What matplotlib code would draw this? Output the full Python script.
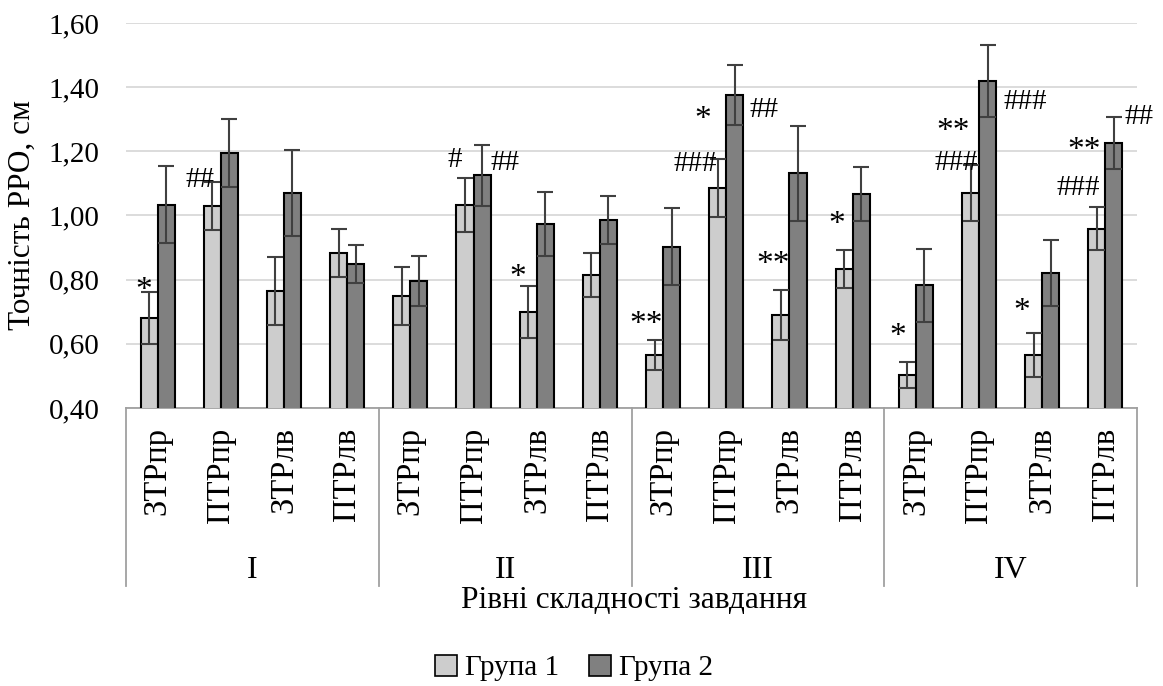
import numpy as np
import matplotlib
matplotlib.use("Agg")
import matplotlib.pyplot as plt
from matplotlib.patches import Patch
import matplotlib.transforms as mtransforms

plt.rcParams['font.family'] = ['Liberation Serif', 'DejaVu Serif']

# ---- data ----
categories = ["ЗТРпр", "ПТРпр", "ЗТРлв", "ПТРлв"] * 4
levels = ["I", "II", "III", "IV"]
group1 = [0.68, 1.03, 0.765, 0.883,
          0.75, 1.033, 0.699, 0.815,
          0.565, 1.085, 0.69, 0.833,
          0.503, 1.07, 0.565, 0.958]
group1_err = [0.08, 0.075, 0.105, 0.075,
              0.09, 0.085, 0.08, 0.068,
              0.047, 0.09, 0.078, 0.06,
              0.041, 0.087, 0.069, 0.067]
group2 = [1.033, 1.195, 1.07, 0.849,
          0.796, 1.126, 0.974, 0.986,
          0.903, 1.375, 1.132, 1.067,
          0.783, 1.419, 0.821, 1.226]
group2_err = [0.12, 0.105, 0.135, 0.06,
              0.078, 0.095, 0.1, 0.075,
              0.12, 0.094, 0.148, 0.084,
              0.114, 0.112, 0.102, 0.08]
series_names = ["Група 1", "Група 2"]
yticks = [0.40, 0.60, 0.80, 1.00, 1.20, 1.40, 1.60]
ylabel = "Точність РРО, см"
xlabel = "Рівні складності завдання"
# significance marks: (category index, series, text, dx px, dy px)
marks = [
    (0, 0, "*", -5, 2),
    (1, 0, "##", -12, 2),
    (5, 0, "#", -10, 18),
    (5, 1, "##", 23, -18),
    (6, 0, "*", -10, 9),
    (8, 0, "**", -8, 15),
    (9, 0, "*", -15, 40),
    (9, 0, "###", -23, -5),
    (9, 1, "##", 29, -45),
    (10, 0, "**", -8, 25),
    (11, 0, "*", -7, 25),
    (12, 0, "*", -10, 25),
    (13, 0, "**", -17, 33),
    (13, 0, "###", -14, 2),
    (13, 1, "###", 38, -57),
    (14, 0, "*", -12, 21),
    (15, 0, "**", -13, 57),
    (15, 0, "###", -19, 19),
    (15, 1, "##", 25, 0),
]

W, H = 1163, 686
fig = plt.figure(figsize=(W / 100, H / 100), dpi=100)
ax = fig.add_axes([126 / W, 1 - 408 / H, (1137 - 126) / W, (408 - 23) / H])

x = np.arange(len(categories))
width = 0.27
c1, c2 = '#cdcdcd', '#808080'
ekw = dict(ecolor='#404040', elinewidth=1.5, capsize=5.5, capthick=1.5)
ax.bar(x - width / 2, group1, width, color=c1, edgecolor='black', linewidth=1.5,
       yerr=group1_err, error_kw=ekw, zorder=3)
ax.bar(x + width / 2, group2, width, color=c2, edgecolor='black', linewidth=1.5,
       yerr=group2_err, error_kw=ekw, zorder=3)

ax.set_xlim(-0.5, len(categories) - 0.5)
ax.set_ylim(0.4, 1.6)
ax.set_yticks(yticks)
ax.set_yticklabels([f"{v:.2f}".replace('.', ',') for v in yticks], fontsize=21)
ax.yaxis.grid(True, color='#d9d9d9', linewidth=1.3, zorder=0)
ax.set_axisbelow(True)
for s in ['top', 'right', 'left']:
    ax.spines[s].set_visible(False)
ax.spines['bottom'].set_color('#a0a0a0')
ax.spines['bottom'].set_linewidth(1.3)
ax.tick_params(axis='y', length=0, pad=19)
ax.set_xticks(x)
ax.set_xticklabels(categories, rotation=90, fontsize=23.5, va='top', ha='center')
ax.tick_params(axis='x', length=0, pad=14)

trans = mtransforms.blended_transform_factory(ax.transData, ax.transAxes)
sep_bottom = -(586 - 408) / 385
for p in [-0.5, 3.5, 7.5, 11.5, 15.5]:
    ax.plot([p, p], [0, sep_bottom], transform=trans, color='#a0a0a0', lw=1.3,
            clip_on=False)
for i, lv in enumerate(levels):
    ax.text(4 * i + 1.5, -(570 - 408) / 385, lv, transform=trans, ha='center',
            va='center', fontsize=23)

# marks
for ci, s, txt, dx, dy in marks:
    if s == 0:
        xc, yt = x[ci] - width / 2, group1[ci] + group1_err[ci]
    else:
        xc, yt = x[ci] + width / 2, group2[ci] + group2_err[ci]
    fs = 24 if '*' in txt else 21
    ax.annotate(txt, (xc, yt), xytext=(dx * 0.72, dy * 0.72), textcoords='offset points',
                ha='center', va='center', fontsize=fs, zorder=5)

fig.text(634 / W, 1 - 600 / H, xlabel, ha='center', va='center', fontsize=22.7)
fig.text(22 / W, 1 - 215 / H, ylabel, ha='center', va='center', rotation=90, fontsize=22.5)

handles = [Patch(facecolor=c1, edgecolor='black', linewidth=1.2),
           Patch(facecolor=c2, edgecolor='black', linewidth=1.2)]
fig.legend(handles, series_names, loc='center', bbox_to_anchor=(574 / W, 1 - 668 / H),
           ncol=2, frameon=False, fontsize=21, handlelength=0.75, handleheight=0.75,
           handletextpad=0.3, columnspacing=1.0)

fig.savefig("out.png", dpi=100)
